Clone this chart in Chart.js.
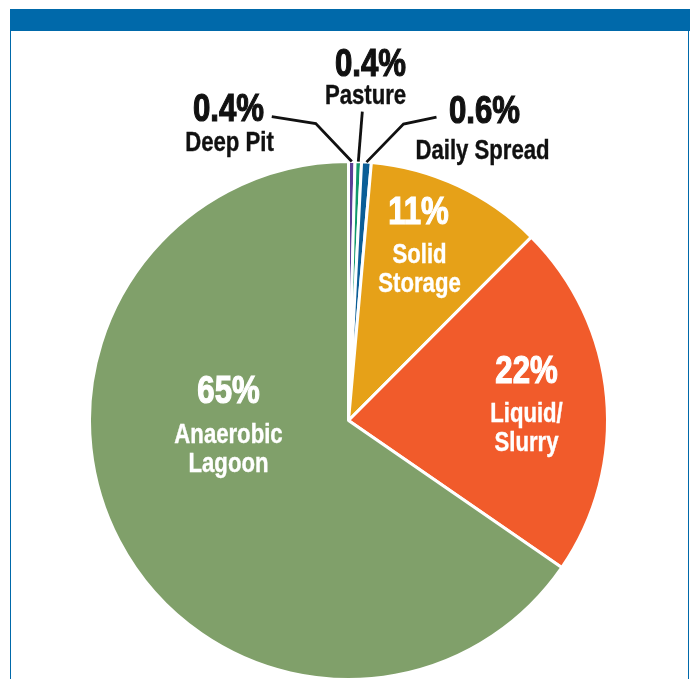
<!DOCTYPE html>
<html>
<head>
<meta charset="utf-8">
<title>Manure management shares</title>
<script src="https://cdn.jsdelivr.net/npm/chart.js@4.4.1/dist/chart.umd.min.js"></script>
<style>
  html, body { margin: 0; padding: 0; background: #fff; }
  #wrap { position: relative; width: 690px; height: 679px; overflow: hidden; }
  #topbar { position: absolute; left: 10px; top: 9px; width: 680px; height: 22px; background: #0069aa; }
  #lside { position: absolute; left: 10px; top: 31px; width: 1px; height: 648px; background: #0069aa; }
  #rside { position: absolute; left: 688px; top: 31px; width: 1px; height: 648px; background: #0069aa; }
  canvas { position: absolute; left: 0; top: 0; }
</style>
</head>
<body>
<div id="wrap">
  <div id="topbar"></div>
  <div id="lside"></div>
  <div id="rside"></div>
  <canvas id="pieChart" width="690" height="679"></canvas>
</div>
<script>
  // data, clockwise from 12 o'clock
  const categories = ['Deep Pit', 'Pasture', 'Daily Spread', ['Solid', 'Storage'], ['Liquid/', 'Slurry'], ['Anaerobic', 'Lagoon']];
  const shares = [0.4, 0.4, 0.6, 11, 22, 65];
  const sliceColors = ['#5b3f95', '#10986a', '#0b5e97', '#e6a118', '#f15b2b', '#80a06a'];

  const FONT = '"Liberation Sans", Arial, sans-serif';
  const NARROW = 0.82; // squeeze text horizontally, condensed look

  // label placement (offsets from the pie centre, px)
  // pct = baseline of the percent text, gap = distance to first name line
  const labelLayout = [
    { pct: [-120, -300], gap: 30, nameDx: 1, color: '#111', leader: [[-36, -38], [-80, -45]] },
    { pct: [22, -345], gap: 28, nameDx: -5, color: '#111', leader: [[4, -50]] },
    { pct: [136, -298], gap: 36, nameDx: -2, color: '#111', leader: [[37, -38], [70, -45]] },
    { pct: [70, -197], gap: 39, nameDx: 1, color: '#fff' },
    { pct: [178, -38], gap: 39, nameDx: 0, color: '#fff' },
    { pct: [-120, -18], gap: 40, nameDx: 0, color: '#fff' }
  ];

  function narrowText(ctx, txt, x, y, heavy) {
    ctx.save();
    ctx.translate(x, y);
    ctx.scale(NARROW, 1);
    ctx.fillText(txt, 0, 0);
    if (heavy) {
      ctx.lineWidth = heavy;
      ctx.strokeText(txt, 0, 0);
    }
    ctx.restore();
  }

  const sliceLabels = {
    id: 'sliceLabels',
    afterDatasetsDraw(chart) {
      const ctx = chart.ctx;
      const arcs = chart.getDatasetMeta(0).data;
      const cx = arcs[0].x, cy = arcs[0].y;
      ctx.save();
      ctx.textAlign = 'center';
      ctx.textBaseline = 'alphabetic';
      arcs.forEach((arc, i) => {
        const lay = labelLayout[i];
        // leader line from the outer edge of the slice
        if (lay.leader) {
          const mid = (arc.startAngle + arc.endAngle) / 2;
          const sx = cx + Math.cos(mid) * arc.outerRadius;
          const sy = cy + Math.sin(mid) * arc.outerRadius;
          ctx.beginPath();
          ctx.moveTo(sx, sy);
          lay.leader.forEach(p => ctx.lineTo(sx + p[0], sy + p[1]));
          ctx.strokeStyle = '#111';
          ctx.lineWidth = 2.8;
          ctx.stroke();
        }
        const px = cx + lay.pct[0], py = cy + lay.pct[1];
        ctx.fillStyle = lay.color;
        ctx.strokeStyle = lay.color;
        ctx.font = 'bold 38px ' + FONT;
        narrowText(ctx, shares[i] + '%', px, py, 1.2);
        ctx.font = 'bold 27px ' + FONT;
        [].concat(categories[i]).forEach((ln, k) => {
          narrowText(ctx, ln, px + lay.nameDx, py + lay.gap + k * 29, 0.4);
        });
      });
      ctx.restore();
    }
  };

  const chart = new Chart(document.getElementById('pieChart'), {
    type: 'pie',
    data: {
      labels: categories.map(c => [].concat(c).join(' ')),
      datasets: [{
        data: shares,
        backgroundColor: sliceColors,
        borderColor: '#ffffff',
        borderWidth: 3,
        clip: false
      }]
    },
    options: {
      responsive: false,
      animation: false,
      rotation: 0,
      radius: 259,
      layout: { padding: { top: 162, bottom: 0, left: 10, right: 3 } },
      plugins: {
        legend: { display: false },
        tooltip: { enabled: false }
      }
    },
    plugins: [sliceLabels]
  });
</script>
</body>
</html>
